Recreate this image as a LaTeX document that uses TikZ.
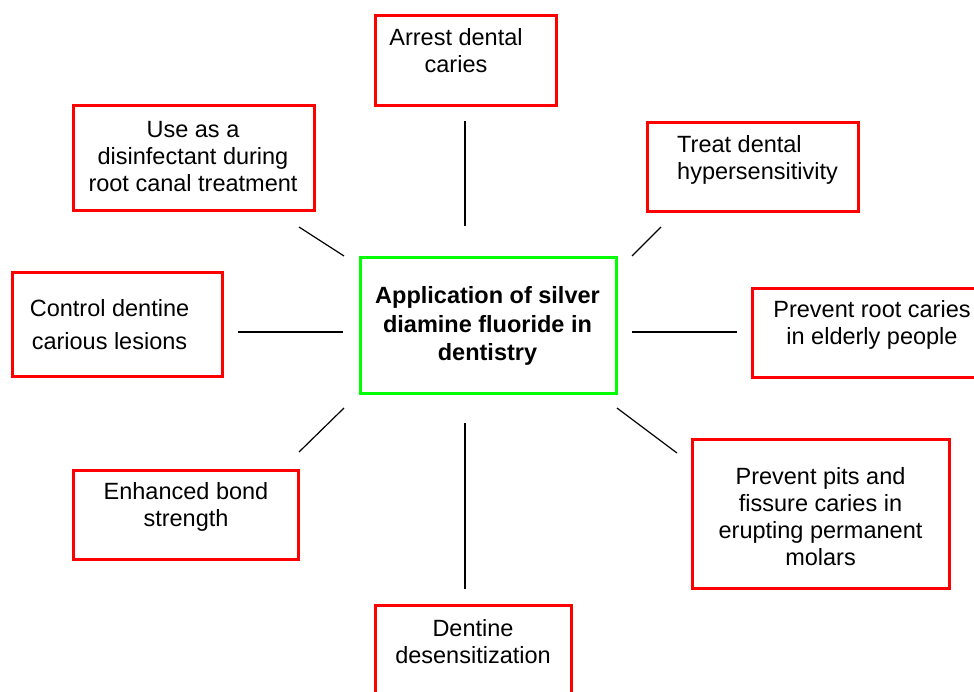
\documentclass[tikz,border=0pt]{standalone}
\usepackage{fontspec}
\setmainfont{Liberation Sans}
\definecolor{boxred}{RGB}{255,0,0}
\definecolor{boxgreen}{RGB}{0,255,0}
\begin{document}
\begin{tikzpicture}[x=1pt,y=-1pt,
  redbox/.style={draw=boxred,line width=3pt,inner sep=0pt,rectangle},
  greenbox/.style={draw=boxgreen,line width=3pt,inner sep=0pt,rectangle},
  txt/.style={inner sep=0pt,align=center,anchor=north,font={\fontsize{23.5}{27}\selectfont}},
  thick line/.style={draw=black,line width=2pt},
  thin line/.style={draw=black,line width=1.2pt}]
\useasboundingbox (0,0) rectangle (974,691);
% boxes
\node[redbox,minimum width=181pt,minimum height=90pt] (arrest) at (465.5,60) {};
\node[redbox,minimum width=241pt,minimum height=105pt] (useas) at (193.5,158) {};
\node[redbox,minimum width=211pt,minimum height=89pt] (treat) at (752.5,166.5) {};
\node[redbox,minimum width=210pt,minimum height=104pt] (control) at (117.6,324.6) {};
\node[greenbox,minimum width=256.5pt,minimum height=136pt] (center) at (488.25,325) {};
\node[redbox,minimum width=247pt,minimum height=88.7pt] (prevroot) at (876.3,332.65) {};
\node[redbox,minimum width=225pt,minimum height=89pt] (enhanced) at (185.5,514.5) {};
\node[redbox,minimum width=256.6pt,minimum height=149.5pt] (pits) at (821,513.75) {};
\node[redbox,minimum width=196pt,minimum height=115pt] (dentine) at (473,662.5) {};
% texts
\node[txt] (tarrest) at (456,{45.7-18.9}) {\strut Arrest dental\\caries};
\node[txt] (tuseas) at (193,{137-18.9}) {\strut Use as a\\disinfectant during\\root canal treatment};
\node[txt,anchor=north west,align=left] (ttreat) at (677,{152-18.9}) {\strut Treat dental\\hypersensitivity};
\node[txt,font={\fontsize{23.5}{32.5}\selectfont}] (tcontrol) at (109.5,{316.7-22.75}) {\strut Control dentine\\carious lesions};
\node[txt,font={\fontsize{23.5}{28.7}\selectfont\bfseries}] (tcenter) at (487.5,{303.3-20.09}) {\strut Application of silver\\diamine fluoride in\\dentistry};
\node[txt] (tprevroot) at (872,{317.3-18.9}) {\strut Prevent root caries\\in elderly people};
\node[txt] (tenhanced) at (186,{499-18.9}) {\strut Enhanced bond\\strength};
\node[txt] (tpits) at (820.5,{484.3-18.9}) {\strut Prevent pits and\\fissure caries in\\erupting permanent\\molars};
\node[txt] (tdentine) at (473,{636-18.9}) {\strut Dentine\\desensitization};
% connector end points
\coordinate (n1) at (465,121); \coordinate (n2) at (465,226);
\coordinate (s1) at (465,423); \coordinate (s2) at (465,589);
\coordinate (w1) at (238,332); \coordinate (w2) at (343,332);
\coordinate (e1) at (632,332); \coordinate (e2) at (737,332);
\coordinate (nw1) at (299,227); \coordinate (nw2) at (344,256);
\coordinate (ne1) at (632,256); \coordinate (ne2) at (661,227);
\coordinate (sw1) at (299,452); \coordinate (sw2) at (344,408);
\coordinate (se1) at (617,408); \coordinate (se2) at (677,453);
\draw[thick line] (n1) -- (n2);
\draw[thick line] (s1) -- (s2);
\draw[thick line] (w1) -- (w2);
\draw[thick line] (e1) -- (e2);
\draw[thin line] (nw1) -- (nw2);
\draw[thin line] (ne1) -- (ne2);
\draw[thin line] (sw1) -- (sw2);
\draw[thin line] (se1) -- (se2);
\end{tikzpicture}
\end{document}
